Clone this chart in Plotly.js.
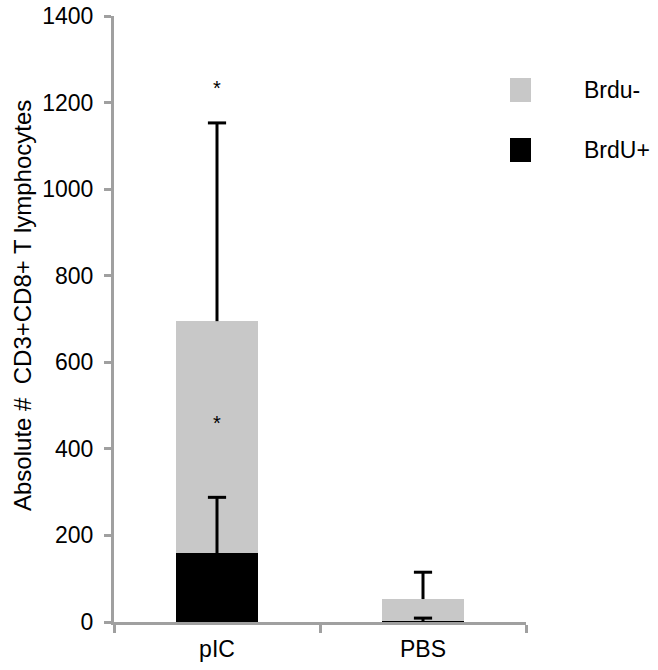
<!DOCTYPE html>
<html>
<head>
<meta charset="utf-8">
<script src="https://cdn.plot.ly/plotly-3.0.1.min.js"></script>
<style>
  body { margin: 0; background: #fff; }
  #chart { width: 658px; height: 670px; }
</style>
</head>
<body>
<div id="chart"></div>
<script>
const groups = ['pIC', 'PBS'];
const seriesNames = ['BrdU+', 'Brdu-'];
const brduPos = [159, 2];
const brduPosErr = [129, 7];
const brduNeg = [536, 51];
const brduNegErr = [458, 62];
const starY = [460, 1233];
const yTitle = 'Absolute # \u00a0CD3+CD8+ T lymphocytes';
const colors = {pos: '#000000', neg: '#c8c8c8'};

// top of each stacked segment, error bars start there and only go up
const posTop = brduPos.slice();
const negTop = brduPos.map((v, i) => v + brduNeg[i]);

function upperErr(bases, errs) {
    const xs = [], ys = [], capX = [], capY = [];
    groups.forEach((g, i) => {
        xs.push(g, g, null);
        ys.push(bases[i], bases[i] + errs[i], null);
        capX.push(g);
        capY.push(bases[i] + errs[i]);
    });
    return [
        {x: xs, y: ys, type: 'scatter', mode: 'lines', line: {color: '#000', width: 3},
         showlegend: false, hoverinfo: 'skip'},
        {x: capX, y: capY, type: 'scatter', mode: 'markers', showlegend: false, hoverinfo: 'skip',
         marker: {symbol: 'line-ew', size: 13, line: {color: '#000', width: 3}}}
    ];
}

const tracePos = {
    x: groups, y: brduPos, name: seriesNames[0], type: 'bar',
    marker: {color: colors.pos}, showlegend: false
};
const traceNeg = {
    x: groups, y: brduNeg, name: seriesNames[1], type: 'bar',
    marker: {color: colors.neg}, showlegend: false
};

const stars = starY.map(v => ({
    x: groups[0], y: v, xref: 'x', yref: 'y', text: '*', showarrow: false,
    font: {size: 20, color: '#000'}
}));

// axis title as a rotated annotation, sits a little above the plot centre
const titleNote = {
    xref: 'paper', yref: 'paper', x: (22 - 114) / 412, y: (622 - 306) / 606,
    xanchor: 'center', yanchor: 'middle', textangle: -90,
    text: yTitle, showarrow: false, font: {size: 24, color: '#000'}
};

// hand-drawn legend, Brdu- on top
const legendItems = [
    {name: seriesNames[1], color: colors.neg, y0: 78, y1: 102},
    {name: seriesNames[0], color: colors.pos, y0: 138, y1: 162}
];
const legendShapes = legendItems.map(it => ({
    type: 'rect', xref: 'paper', yref: 'paper',
    x0: (510 - 114) / 412, x1: (531 - 114) / 412,
    y0: (622 - it.y1) / 606, y1: (622 - it.y0) / 606,
    fillcolor: it.color, line: {width: 0}
}));
const legendText = legendItems.map(it => ({
    xref: 'paper', yref: 'paper', x: (582 - 114) / 412, xanchor: 'left',
    y: (622 - (it.y0 + it.y1) / 2) / 606, yanchor: 'middle',
    text: it.name, showarrow: false,
    font: {size: 23, color: '#000'}
}));

const layout = {
    barmode: 'stack',
    bargap: 0.6,
    width: 658,
    height: 670,
    margin: {t: 16, b: 48, l: 114, r: 132},
    paper_bgcolor: '#fff',
    plot_bgcolor: '#fff',
    font: {family: 'Liberation Sans, Arial', size: 23, color: '#000'},
    xaxis: {
        type: 'category',
        range: [-0.5, 1.5],
        tickson: 'boundaries',
        ticks: 'outside', ticklen: 8, tickwidth: 3, tickcolor: '#a0a0a0',
        showline: true, linecolor: '#a0a0a0', linewidth: 3,
        showgrid: false, zeroline: false,
        tickfont: {size: 23},
        ticklabelstandoff: 4
    },
    yaxis: {
        range: [0, 1400],
        dtick: 200,
        ticks: 'outside', ticklen: 7, tickwidth: 3, tickcolor: '#a0a0a0',
        showline: true, linecolor: '#a0a0a0', linewidth: 3,
        showgrid: false, zeroline: false,
        tickfont: {size: 23},
        ticklabelstandoff: 6
    },
    annotations: [titleNote].concat(stars, legendText),
    shapes: legendShapes
};

const traces = [tracePos, traceNeg]
    .concat(upperErr(posTop, brduPosErr))
    .concat(upperErr(negTop, brduNegErr));

Plotly.newPlot('chart', traces, layout, {displayModeBar: false});
</script>
</body>
</html>
